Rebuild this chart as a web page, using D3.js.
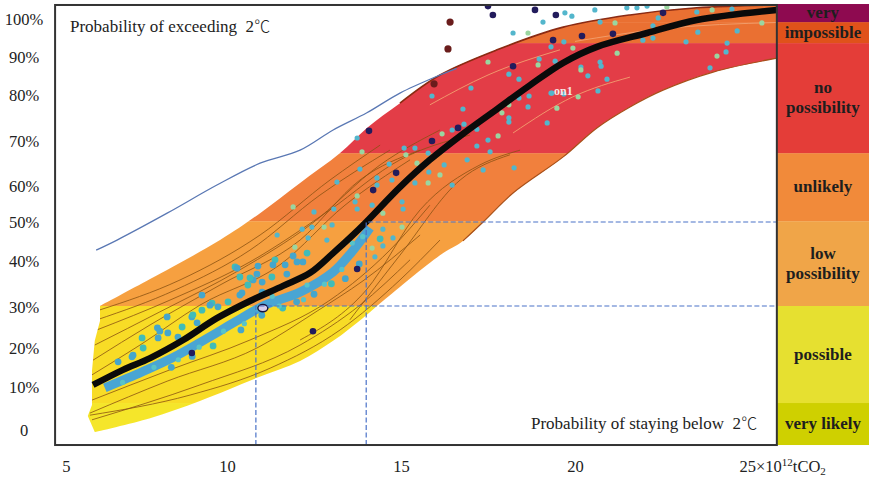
<!DOCTYPE html>
<html>
<head>
<meta charset="utf-8">
<script src="https://d3js.org/d3.v7.min.js"></script>
<style>
  html, body { margin: 0; padding: 0; background: #fff; }
  svg { display: block; }
  text { font-family: "Liberation Serif", "Times New Roman", serif; fill: #222; }
  .tick text { font-size: 16.5px; }
  .zoneLabel { font-size: 17px; font-weight: bold; text-anchor: middle; fill: #1e1e1e; }
  .note { font-size: 17px; }
  .degree { font-family: "Noto Sans CJK SC", sans-serif; font-weight: 300; font-size: 16px; }
</style>
</head>
<body>
<div id="chart"></div>
<script>
// tick labels, positions are where they sit on the original (not evenly spaced)
var xTickPos = [5.37, 10, 15, 20, 25];
var xTickLabels = ["5", "10", "15", "20", "25"];
var yTickPos = [0.5, 10.7, 20, 29.8, 40.7, 50, 58.6, 69.3, 80.2, 89.3, 98.3];
var yTickLabels = ["0", "10%", "20%", "30%", "40%", "50%", "60%", "70%", "80%", "90%", "100%"];

// probability zones, bottom to top
var zoneEdges = [-3.1, 6.9, 30, 50.2, 66.4, 92.6, 97.6, 101.9];
var zoneColors = ["#cfd000", "#e6e030", "#f0a548", "#f18a3a", "#e43d38", "#e0521a", "#8e0a50"];
var bandColors = ["#f5e62c", "#f8dc26", "#f6a040", "#f1803e", "#e33c46", "#ea7030", "#ea7030"];

// fan outline: upper edge, left side, lower edge
var upperEdge = [[6.35,30],[7.79,36.4],[9.8,45.7],[10.95,52.1],[12.1,59.3],[13.25,66.4],[14.02,72.4],[14.97,78.3],[16.12,85],[17.76,91],[19.66,96.4],[21.58,99.3],[23.5,101],[25.8,101.7]];
var leftEdge = [[6.35,30],[6.35,26.4],[6.2,21.7],[6.12,14.5],[6.12,6.4],[6.0,3.8],[6.2,0]];
var lowerEdge = [[6.2,0],[7.79,3.3],[9.22,7.4],[10.86,12.9],[12.1,16.9],[13.05,21.7],[13.9,27.1],[14.48,31.2],[16.12,42.1],[16.78,45.5],[17.36,50],[18.22,56.9],[19.66,65.5],[20.63,72.4],[21.58,77.4],[22.53,81.4],[23.97,85.7],[25.8,89]];

var medianLine = [[6.15,11.2],[7.01,14.8],[7.79,17.6],[8.74,21.9],[9.71,27.1],[10.66,31.2],[11.61,34.8],[12.39,37.9],[13.05,42.6],[13.53,46.2],[14,50],[14.97,58.3],[15.83,64.8],[16.78,71],[17.76,76.9],[18.71,82.6],[19.66,87.9],[20.63,91.7],[22.07,95],[23.5,98.1],[25.8,100.5]];
var blueLine = [[6.24,43.3],[6.84,45.7],[8.28,52.1],[9.71,58.8],[10.95,64],[12.1,67.1],[13.05,71.9],[14.02,76],[14.97,80.7],[16.12,85],[16.6,86.6]];
var streamLine = [[6.49,10.5],[7.56,14.3],[8.42,17.6],[9.45,22.4],[10.23,26.2],[11.09,30.2],[12.1,33.3],[13.05,38.1],[13.59,42.9],[14.11,48.6]];

// individual model runs
var modelRuns = [
  [[6.06,4.5],[8.28,12.1],[10.86,20],[12.59,28.8],[13.91,36],[15.55,46.9]],
  [[6.06,4],[8.94,8.8],[11.24,15.2],[13.25,24.3],[14.97,36.2],[16.12,45.7]],
  [[6.12,7.6],[8.36,14.8],[10.66,21.9],[12.96,31.4],[14.68,43.3],[15.83,54]],
  [[6.12,2.9],[9.22,11.2],[12.1,20.7],[13.82,30.2],[15.26,41]],
  [[6.26,24.3],[8.36,31.4],[10.66,40.5],[12.96,52.9],[14.97,64.8],[16.98,70.7]],
  [[6.26,26.7],[8.51,33.8],[10.66,43.3],[12.67,56.4],[14.68,67.1]],
  [[6.2,20.7],[8.07,28.6],[10.37,38.6],[12.39,49.3],[14.4,63.6],[16.12,71.9]],
  [[6.15,17.1],[7.79,25.5],[9.8,35],[12.1,45.7],[13.82,60],[15.55,67.1]],
  [[6.12,13.6],[7.5,20.7],[9.22,30.2],[11.52,39.8],[13.39,54],[15.26,64.8]],
  [[6.32,29],[8.65,36.2],[10.95,46.9],[12.96,60],[14.4,68.3]],
  [[12.1,21.9],[14,33.8],[15.55,52.9],[17.27,63.6],[18.42,67.1]],
  [[13.53,26.7],[14.97,42.1],[16.7,60],[18.13,66]]
];
var paleRuns = [
  [[18.22,71.2],[19.94,79.8],[21.58,84.5]],
  [[15.83,77.9],[17.5,85],[19.57,91]],
  [[20,93],[22.5,96],[25.8,97.5]]
];

var cyanDots = [[13.74,70],[13.88,66.7],[15.89,80],[17.01,81.9],[16.78,76.9],[17.5,88.1],[18.1,85.2],[18.39,84],[18.97,88.8],[18.94,87.4],[19.43,88.3],[19.31,91.7],[18.22,95],[18.65,95],[19.08,97.6],[15.09,67.6],[15.4,67.6],[16.18,71],[16.47,71.9],[16.81,73.3],[17.18,72.1],[17.79,70.5],[17.5,69.5],[17.18,68.1],[17.56,66.7],[18.1,77.9],[18.39,79.5],[18.68,80],[18.65,77.4],[17.9,76],[18.1,74.8],[18.1,73.8],[19.2,73.6],[19.48,77.1],[19.31,80.7],[14.66,63.8],[13.82,62.6],[15.14,66],[15.78,66.4],[14.31,60.5],[14.74,60],[15.46,64],[16.24,63.6],[16.9,64.8],[15.8,61.9],[16.12,61.2],[17.36,62.4],[18.25,62.9],[15.4,59.3],[15.78,59.3],[16.47,58.8],[14.31,58.8],
  [20.72,97.6],[21.15,97.4],[22.39,98.6],[22.24,96.7],[23.5,100],[23.94,100.5],[24.51,100.7],[23.53,95.2],[24.66,95.5],[25.37,97.4],[23.19,92.9],[24.37,92.6],[24.34,90.5],[24.08,89.5],[23.88,86.7],[21.95,93.3],[22.24,93.8],[21.21,90.2],[20.72,88.1],[20.75,87.1],[20.17,86.9],[20.17,86.2],[20.37,84.8],[20.92,84],[20.66,81.2],[19.94,91.4],[19.68,92.9],[19.34,80.7],[19.68,80.5],[20.09,79.8],[21.49,101],[21.78,101],[22.07,101.4],[22.64,101.2],[19.71,99.8],[19.91,99],[20.57,100.5],
  [11.9,53.6],[12.5,52.4],[13.07,53.1],[13.16,59.5],[13.74,56.2],[13.68,54.8],[13.74,53.1],[14.17,54],[14.48,52.1],[15.03,54.8],[15.06,53.1],[14.48,48.3],[15.03,48.8],[14.77,46.2],[14.48,44.3],[14.25,41.7],[14.17,43.8],[11.44,46.9],[12.16,48.3],[12.44,48.8],[12.79,48.8],[13.02,49.3],[12.33,46.2],[12.87,45.7],[11.95,44]];
var clusterDots = [[11.38,41],[11.32,39.8],[11.9,41.9],[12.3,42.6],[12.01,40.5],[12.18,40.5],[10.23,39.3],[10.89,39.5],[10.86,37.6],[10.37,36.9],[10.75,36.2],[11.01,35.7],[11.29,36.9],[11.72,37.6],[10.43,33.1],[10.6,35],[11.67,39.8],[11.01,33.3],[7.56,22.4],[8,24.8],[8.28,27.4],[8.71,25],[8.99,27.4],[9.28,32.6],[9.57,30.7],[9.14,26],[8.3,23.6],[7.59,20],[7.27,17.9],[6.87,16.7],[10.03,31],[8.02,22.4],[8.59,22.6],[9.28,29],[9.74,29.8],[10.29,39],[10.66,36.7],[10.37,32.6],[9.51,30.2],[9.02,27.9],[8.07,24],[7.3,18.3],[11.6,29.5],[12,31],[12.5,32.8],[13,35.3],[13.4,36.5],[13.8,40],[14.4,46],[11,27.8],[10.4,24.3],[9.6,20.5],[9,18],[8.4,15.4]];
// lighter specks on top of the blue stream
var streamPatches = [[7,11.8],[7.9,15.4],[8.6,17.2],[9.2,20.2],[9.9,24],[10.5,25.8],[10.9,29.5],[11.5,30],[12.2,31.5],[12.8,35.2],[13.3,38.7],[13.6,45],[13.9,46.5],[12.3,35],[11.3,32.3]];
var navyDots = [[14.08,71.7],[18.22,87.1],[19.37,93.3],[16.64,72.4],[15.89,69.3],[14.86,61.7],[14.2,57.6],[13.74,38.8],[12.47,24],[8.99,18.8],[20.2,94.3],[21.09,94.8],[17.64,99.3],[18.85,100.5],[19.45,99.3],[17.5,101.4],[22.53,99.8]];
var brownDots = [[16.41,97.6],[16.35,91.2],[15.95,82.9]];
var ringDot = [11.03, 29.5];

var zoneTexts = [["very likely"], ["possible"], ["low", "possibility"], ["unlikely"], ["no", "possibility"], ["impossible"], ["very"]];

var width = 869;
var height = 478;

var svg = d3.select("#chart").append("svg")
    .attr("width", width)
    .attr("height", height);

var xScale = d3.scaleLinear().domain([5, 25]).range([53, 749]);
var yScale = d3.scaleLinear().domain([0, 100]).range([432, 12]);

var frameX = [5.06, 25.8];
var frameY = [-3.1, 101.67];

var line = d3.line()
    .x(function(d) { return xScale(d[0]); })
    .y(function(d) { return yScale(d[1]); })
    .curve(d3.curveCatmullRom.alpha(0.5));

var straightLine = d3.line()
    .x(function(d) { return xScale(d[0]); })
    .y(function(d) { return yScale(d[1]); });

var runLine = d3.line()
    .x(function(d) { return xScale(d[0]); })
    .y(function(d) { return yScale(d[1]); })
    .curve(d3.curveMonotoneX);

// clip everything to the fan / the frame
var defs = svg.append("defs");
// the left side stays straight so the corners keep their points
var fanPath = line(upperEdge.slice().reverse())
    + straightLine(leftEdge).replace("M", "L")
    + line(lowerEdge).replace("M", "L") + "Z";
defs.append("clipPath").attr("id", "fanClip")
    .append("path")
    .attr("d", fanPath);
defs.append("clipPath").attr("id", "frameClip")
    .append("rect")
    .attr("x", xScale(frameX[0]))
    .attr("y", yScale(frameY[1]))
    .attr("width", xScale(frameX[1]) - xScale(frameX[0]))
    .attr("height", yScale(frameY[0]) - yScale(frameY[1]));
defs.append("filter").attr("id", "soft")
    .append("feGaussianBlur").attr("stdDeviation", 0.45);

// fan with zone colours
var plot = svg.append("g").attr("clip-path", "url(#frameClip)");
var fan = plot.append("g").attr("clip-path", "url(#fanClip)");
var fanInner = fan.append("g").attr("filter", "url(#soft)");

fanInner.selectAll("rect.band").data(bandColors).enter().append("rect")
    .attr("class", "band")
    .attr("x", xScale(frameX[0]))
    .attr("width", xScale(frameX[1]) - xScale(frameX[0]))
    .attr("y", function(d, i) { return yScale(zoneEdges[i + 1]); })
    .attr("height", function(d, i) { return yScale(zoneEdges[i]) - yScale(zoneEdges[i + 1]); })
    .attr("fill", function(d) { return d; });

// thin model runs
fanInner.selectAll("path.run").data(modelRuns).enter().append("path")
    .attr("class", "run")
    .attr("d", runLine)
    .attr("fill", "none")
    .attr("stroke", "#8a5212")
    .attr("stroke-width", 0.8);

fanInner.selectAll("path.pale").data(paleRuns).enter().append("path")
    .attr("class", "pale")
    .attr("d", runLine)
    .attr("fill", "none")
    .attr("stroke", "#f2a070")
    .attr("stroke-width", 0.9);

// blue stream under the median
fanInner.append("path")
    .attr("d", line(streamLine))
    .attr("fill", "none")
    .attr("stroke", "#4aa5d4")
    .attr("stroke-width", 9);

fanInner.selectAll("circle.cluster").data(clusterDots).enter().append("circle")
    .attr("class", "cluster")
    .attr("cx", function(d) { return xScale(d[0]); })
    .attr("cy", function(d) { return yScale(d[1]); })
    .attr("r", 3.4)
    .attr("fill", function(d, i) { return i % 3 == 0 ? "#3fbcb8" : "#45a6cc"; });

fanInner.selectAll("circle.patch").data(streamPatches).enter().append("circle")
    .attr("class", "patch")
    .attr("cx", function(d) { return xScale(d[0]); })
    .attr("cy", function(d) { return yScale(d[1]); })
    .attr("r", 2.6)
    .attr("fill", "#58c4c8");

// edges of the fan
plot.append("path").attr("d", line(upperEdge.slice(7)))
    .attr("fill", "none").attr("stroke", "#8a2a12").attr("stroke-width", 1.6).attr("filter", "url(#soft)");
plot.append("path").attr("d", line(lowerEdge.slice(9)))
    .attr("fill", "none").attr("stroke", "#a8501a").attr("stroke-width", 1.2).attr("filter", "url(#soft)");

// blue line above the fan
plot.append("path")
    .attr("d", line(blueLine))
    .attr("fill", "none")
    .attr("stroke", "#5a78b4")
    .attr("stroke-width", 1.3);

// scattered dots
var dots = plot.append("g").attr("filter", "url(#soft)");
dots.selectAll("circle.cyan").data(cyanDots).enter().append("circle")
    .attr("class", "cyan")
    .attr("cx", function(d) { return xScale(d[0]); })
    .attr("cy", function(d) { return yScale(d[1]); })
    .attr("r", 2.6)
    .attr("fill", function(d, i) { return i % 4 == 1 ? "#9ad6a0" : "#52b6cc"; });
dots.selectAll("circle.navy").data(navyDots).enter().append("circle")
    .attr("class", "navy")
    .attr("cx", function(d) { return xScale(d[0]); })
    .attr("cy", function(d) { return yScale(d[1]); })
    .attr("r", 3.3)
    .attr("fill", "#241a5c");
dots.selectAll("circle.brown").data(brownDots).enter().append("circle")
    .attr("class", "brown")
    .attr("cx", function(d) { return xScale(d[0]); })
    .attr("cy", function(d) { return yScale(d[1]); })
    .attr("r", 3.6)
    .attr("fill", "#6a1f1a");

// thick median
plot.append("path")
    .attr("d", line(medianLine))
    .attr("fill", "none")
    .attr("stroke", "#0a0a0a")
    .attr("stroke-width", 6.5);

// big ringed dot where the 30% read-off meets the median
plot.append("ellipse")
    .attr("cx", xScale(ringDot[0]))
    .attr("cy", yScale(ringDot[1]))
    .attr("rx", 5)
    .attr("ry", 3.6)
    .attr("fill", "#d8cdea")
    .attr("stroke", "#16123c")
    .attr("stroke-width", 1.4);

plot.append("text")
    .attr("x", xScale(19.4))
    .attr("y", yScale(80.3))
    .attr("font-size", 12)
    .attr("font-weight", "bold")
    .style("fill", "#f6e6e6")
    .text("on1");

// dashed read-off lines
var readOffs = [[10.83, 30], [14, 50]];
readOffs.forEach(function(r) {
    plot.append("path")
        .attr("d", d3.line()([[xScale(r[0]), yScale(frameY[0])], [xScale(r[0]), yScale(r[1])], [xScale(frameX[1]), yScale(r[1])]]))
        .attr("fill", "none")
        .attr("stroke", "#4a72c8")
        .attr("stroke-width", 1.2)
        .attr("stroke-dasharray", "5,2.5");
});

// zone column on the right
var zones = svg.append("g");
zones.selectAll("rect").data(zoneColors).enter().append("rect")
    .attr("x", xScale(frameX[1]))
    .attr("width", width - xScale(frameX[1]))
    .attr("y", function(d, i) { return yScale(zoneEdges[i + 1]); })
    .attr("height", function(d, i) { return yScale(zoneEdges[i]) - yScale(zoneEdges[i + 1]); })
    .attr("fill", function(d) { return d; });

zones.selectAll("text").data(zoneTexts).enter().append("text")
    .attr("class", "zoneLabel")
    .attr("transform", function(d, i) {
        var mid = (yScale(zoneEdges[i]) + yScale(zoneEdges[i + 1])) / 2;
        return "translate(" + (xScale(frameX[1]) + width) / 2 + "," + mid + ")";
    })
    .each(function(d) {
        var t = d3.select(this);
        d.forEach(function(s, k) {
            t.append("tspan")
                .attr("x", 0)
                .attr("y", (k - (d.length - 1) / 2) * 20 + 5)
                .text(s);
        });
    });

// frame
svg.append("rect")
    .attr("x", xScale(frameX[0]))
    .attr("y", yScale(frameY[1]))
    .attr("width", xScale(frameX[1]) - xScale(frameX[0]))
    .attr("height", yScale(frameY[0]) - yScale(frameY[1]))
    .attr("fill", "none")
    .attr("stroke", "#333")
    .attr("stroke-width", 2);

// axes
var xAxis = d3.axisBottom(xScale)
    .tickValues(xTickPos)
    .tickSize(0)
    .tickFormat(function(d, i) { return xTickLabels[i]; });
var yAxis = d3.axisLeft(yScale)
    .tickValues(yTickPos)
    .tickSize(0)
    .tickFormat(function(d, i) { return yTickLabels[i]; });

var xG = svg.append("g")
    .attr("transform", "translate(0," + (height - 11) + ")")
    .call(xAxis);
xG.select(".domain").remove();
xG.selectAll(".tick text").attr("y", 0).attr("dy", "0.32em");

var yG = svg.append("g")
    .attr("transform", "translate(24,0)")
    .call(yAxis);
yG.select(".domain").remove();
yG.selectAll(".tick text").attr("x", 0).attr("text-anchor", "middle");

// last x label carries the unit
var lastTick = xG.selectAll(".tick text").filter(function(d, i) { return i == xTickPos.length - 1; });
lastTick.attr("text-anchor", "start").attr("x", -10).text("25×10");
lastTick.append("tspan").attr("font-size", 11).attr("dy", -6).text("12");
lastTick.append("tspan").attr("dy", 6).text("tCO");
lastTick.append("tspan").attr("font-size", 11).attr("dy", 3).text("2");

// corner notes, the degree sign is a full width glyph in the original
var topNote = svg.append("text").attr("class", "note").attr("x", 70).attr("y", 32);
topNote.append("tspan").text("Probability of exceeding\u00a0\u00a02");
topNote.append("tspan").attr("class", "degree").text("℃");
var bottomNote = svg.append("text").attr("class", "note").attr("x", 531).attr("y", 429);
bottomNote.append("tspan").text("Probability of staying below\u00a0\u00a02");
bottomNote.append("tspan").attr("class", "degree").text("℃");
</script>
</body>
</html>
